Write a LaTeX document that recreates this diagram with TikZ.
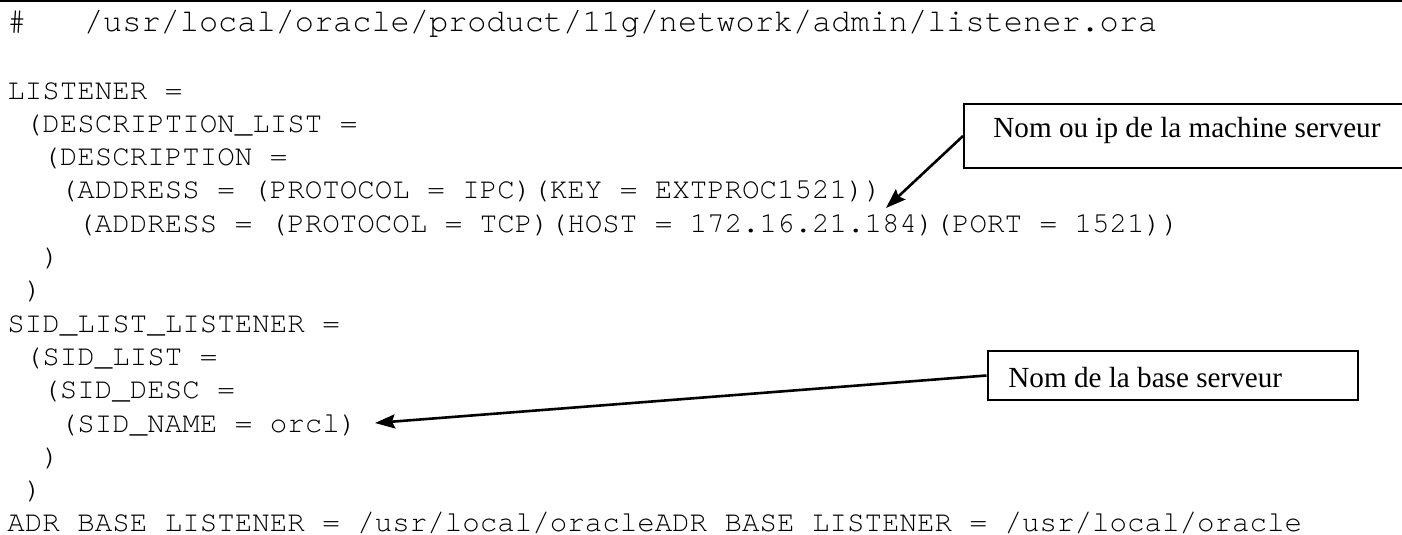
\documentclass[tikz,border=0pt]{standalone}
\usepackage{fontspec}
\setmainfont{Liberation Serif}
\newfontfamily\codefont{TeX Gyre Cursor}
\usetikzlibrary{arrows.meta}
\begin{document}
\begin{tikzpicture}[x=0.5pt,y=-0.5pt,
  code/.style={anchor=base west, inner sep=0pt, font=\codefont\fontsize{14.58pt}{16.65pt}\selectfont\frenchspacing},
  codehead/.style={anchor=base west, inner sep=0pt, font=\codefont\fontsize{15.97pt}{18pt}\selectfont\frenchspacing},
  callout/.style={draw, line width=1pt, inner sep=0pt, anchor=north west},
  calltext/.style={anchor=base west, inner sep=0pt, font=\fontsize{14.58pt}{16.65pt}\selectfont},
  pointer/.style={line width=1.3pt, -{Stealth[length=10pt,width=7pt,inset=1.5pt]}}]
\useasboundingbox (0,0) rectangle (1402,535);
\clip (0,0) rectangle (1402,535);
\draw[line width=1pt] (0,1) -- (1402,1);
% code lines
\node[codehead] (l1) at (7,32) {\#~~~/usr/local/oracle/product/11g/network/admin/listener.ora};
\node[code] (l3) at (7,99) {LISTENER =};
\node[code] (l4) at (24.5,132.3) {(DESCRIPTION\_LIST =};
\node[code] (l5) at (42,165.6) {(DESCRIPTION =};
\node[code] (l6) at (59.5,198.9) {(ADDRESS = (PROTOCOL = IPC)(KEY = EXTPROC1521))};
\node[code] (l7) at (77,232.2) {(ADDRESS = (PROTOCOL = TCP)(HOST = 172.16.21.184)(PORT = 1521))};
\node[code] (l8) at (42,265.5) {)};
\node[code] (l9) at (24.5,298.8) {)};
\node[code] (l10) at (7,332.1) {SID\_LIST\_LISTENER =};
\node[code] (l11) at (24.5,365.4) {(SID\_LIST =};
\node[code] (l12) at (42,398.7) {(SID\_DESC =};
\node[code] (l13) at (59.5,432) {(SID\_NAME = orcl)};
\node[code] (l14) at (42,465.3) {)};
\node[code] (l15) at (24.5,498.6) {)};
\node[code] (l16) at (7,531.9) {ADR BASE LISTENER = /usr/local/oracleADR BASE LISTENER = /usr/local/oracle};
% callout boxes
\node[callout, minimum width=228.5pt, minimum height=32pt] (b1) at (963,103) {};
\node[calltext] (t1) at (993,138) {Nom ou ip de la machine serveur};
\node[callout, minimum width=185.25pt, minimum height=24.5pt] (b2) at (986.5,350) {};
\node[calltext] (t2) at (1008,387) {Nom de la base serveur};
% pointers
\coordinate (tip1) at (886,208);
\coordinate (tip2) at (375,423);
\draw[pointer] (b1.west) -- (tip1);
\draw[pointer] (b2.west) -- (tip2);
\end{tikzpicture}
\end{document}
